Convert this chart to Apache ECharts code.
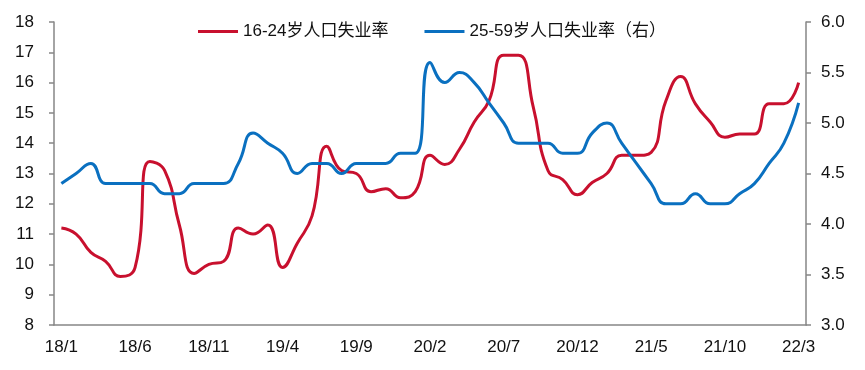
<!DOCTYPE html>
<html>
<head>
<meta charset="utf-8">
<script src="https://cdn.jsdelivr.net/npm/echarts@6/dist/echarts.min.js"></script>
<style>
html,body{margin:0;padding:0;background:#fff;}
#c{width:865px;height:370px;}
</style>
</head>
<body>
<div id="c"></div>
<script>
// Months 2018/1 .. 2022/3
const categories = [];
for (let y = 18; y <= 22; y++) {
  for (let m = 1; m <= 12; m++) {
    if (y === 22 && m > 3) break;
    categories.push(y + '/' + m);
  }
}
// 16-24岁人口失业率 (left axis, %)
const youth = [
  11.2, 11.0, 10.4, 10.1, 9.6, 9.9, 13.4, 13.1, 11.3, 9.7, 10.0, 10.1,
  11.2, 11.0, 11.3, 9.9, 10.7, 11.6, 13.9, 13.1, 13.0, 12.4, 12.5, 12.2,
  12.4, 13.6, 13.3, 13.8, 14.7, 15.4, 16.9, 16.9, 15.2, 13.1, 12.8, 12.3,
  12.7, 13.0, 13.6, 13.6, 13.7, 15.4, 16.2, 15.3, 14.7, 14.2, 14.3, 14.3,
  15.3, 15.3, 16.0
];
// 25-59岁人口失业率 (right axis, %)
const adult = [
  4.4, 4.5, 4.6, 4.4, 4.4, 4.4, 4.4, 4.3, 4.3, 4.4, 4.4, 4.4,
  4.6, 4.9, 4.8, 4.7, 4.5, 4.6, 4.6, 4.5, 4.6, 4.6, 4.6, 4.7,
  4.7, 5.6, 5.4, 5.5, 5.4, 5.2, 5.0, 4.8, 4.8, 4.8, 4.7, 4.7,
  4.9, 5.0, 4.8, 4.6, 4.4, 4.2, 4.2, 4.3, 4.2, 4.2, 4.3, 4.4,
  4.6, 4.8, 5.2
];
const seriesNames = ['16-24岁人口失业率', '25-59岁人口失业率（右）'];

const FONT = '"Liberation Sans", Arial, "Noto Sans CJK SC", sans-serif';
const axisColor = '#868686';
const chart = echarts.init(document.getElementById('c'));
chart.setOption({
  animation: false,
  backgroundColor: '#fff',
  textStyle: { fontFamily: FONT },
  grid: { left: 54, right: 59, top: 22, bottom: 45, containLabel: false },
  legend: {
    left: 193, top: 18,
    icon: 'rect',
    itemWidth: 40, itemHeight: 3, itemGap: 36,
    textStyle: { fontSize: 17, color: '#111', fontFamily: FONT },
    data: seriesNames
  },
  xAxis: {
    type: 'category',
    data: categories,
    boundaryGap: true,
    axisLine: { lineStyle: { color: axisColor, width: 1.5 } },
    axisTick: { interval: 4, length: 5, lineStyle: { color: axisColor, width: 1.5 } },
    axisLabel: { interval: 4, margin: 14, fontSize: 17, color: '#111', fontFamily: FONT }
  },
  yAxis: [
    {
      type: 'value', min: 8, max: 18, interval: 1,
      splitLine: { show: false },
      axisLine: { show: true, lineStyle: { color: axisColor, width: 1.5 } },
      axisTick: { show: true, length: 5, lineStyle: { color: axisColor, width: 1.5 } },
      axisLabel: { margin: 20, fontSize: 17, color: '#111', fontFamily: FONT }
    },
    {
      type: 'value', min: 3, max: 6, interval: 0.5,
      position: 'right',
      splitLine: { show: false },
      axisLine: { show: true, lineStyle: { color: axisColor, width: 1.5 } },
      axisTick: { show: true, length: 5, lineStyle: { color: axisColor, width: 1.5 } },
      axisLabel: { margin: 15, fontSize: 17, color: '#111', fontFamily: FONT,
        formatter: v => v.toFixed(1) }
    }
  ],
  series: [
    {
      name: seriesNames[0], type: 'line', yAxisIndex: 0,
      data: youth, smooth: 0.5, symbol: 'none',
      lineStyle: { color: '#C8102E', width: 3 },
      itemStyle: { color: '#C8102E' }
    },
    {
      name: seriesNames[1], type: 'line', yAxisIndex: 1,
      data: adult, smooth: 0.5, symbol: 'none',
      lineStyle: { color: '#0A70C0', width: 3 },
      itemStyle: { color: '#0A70C0' }
    }
  ]
});
</script>
</body>
</html>
